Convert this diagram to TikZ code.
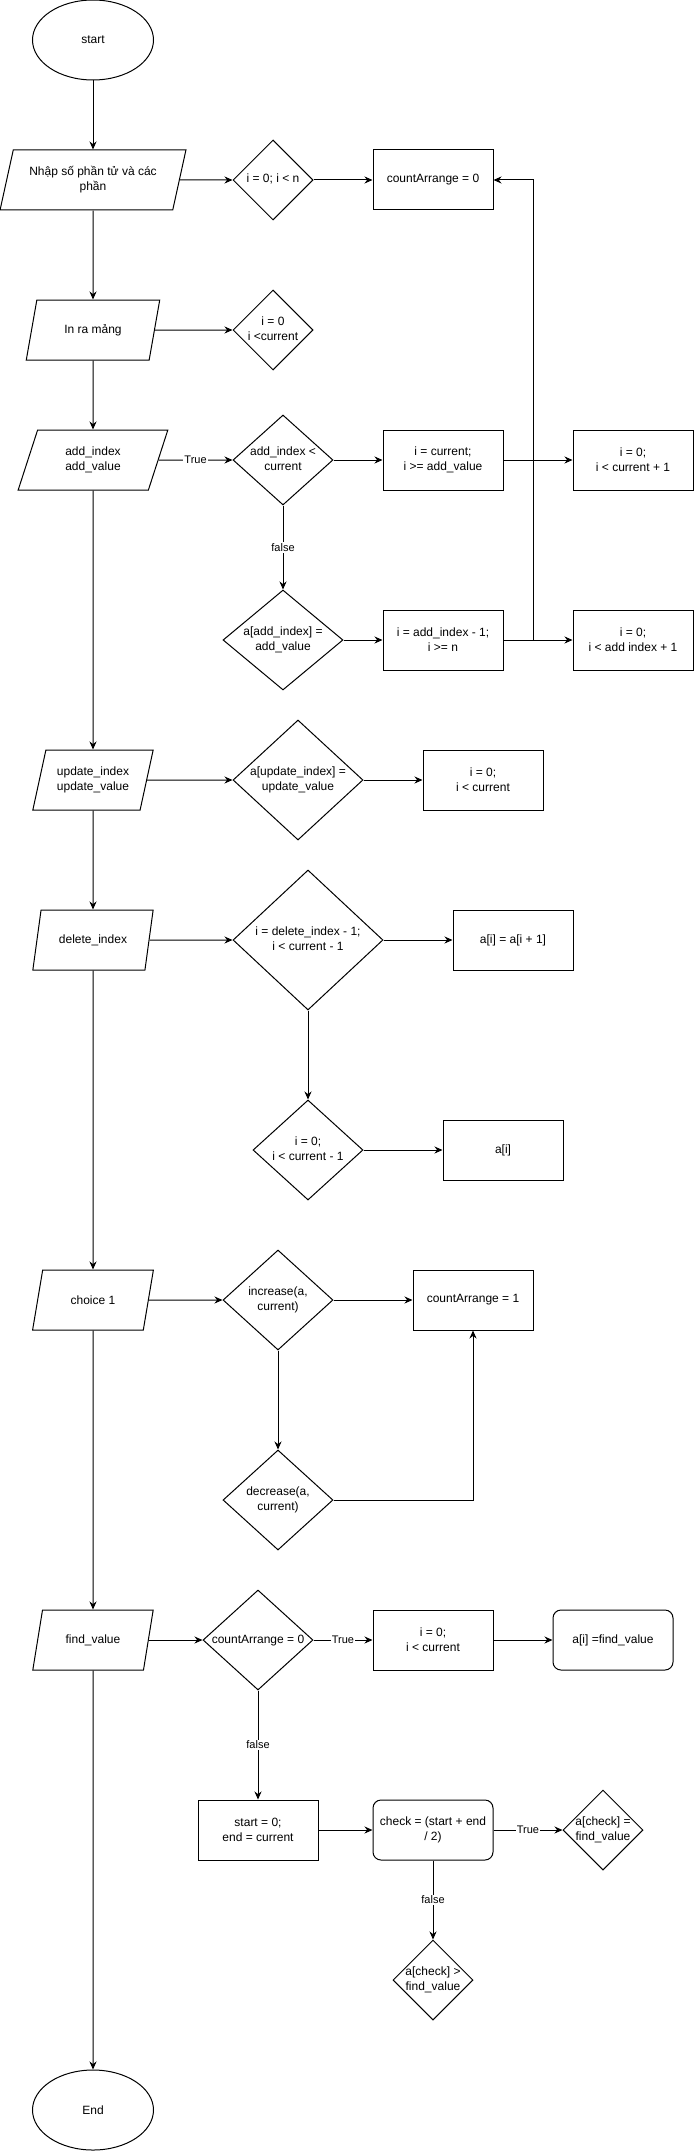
\documentclass[tikz,border=0pt]{standalone}
\usepackage{fontspec}
\setmainfont{Liberation Sans}
\usetikzlibrary{shapes.geometric,arrows.meta}
\newcommand\dtext[1]{\makebox[0pt]{\begin{tabular}{@{}c@{}}#1\end{tabular}}}
\tikzset{
  every node/.style={font=\fontsize{12}{15}\selectfont},
  term/.style={ellipse, draw, minimum width=121pt, minimum height=80pt},
  io/.style={trapezium, trapezium left angle=71.6, trapezium right angle=108.4,
    trapezium stretches=true, draw, align=center, minimum height=60pt, minimum width=#1},
  io/.default=121pt,
  decision/.style 2 args={diamond, draw, inner sep=0pt, minimum width=#1, minimum height=#2},
  process/.style={rectangle, draw, align=center, minimum width=120pt, minimum height=60pt},
  roundbox/.style={process, rounded corners=8pt},
  flow/.style={-{Stealth[length=8pt,width=7pt]}},
  lbl/.style={fill=white, inner sep=1pt, font=\fontsize{11}{13}\selectfont},
}
\begin{document}
\begin{tikzpicture}[x=1pt, y=-1pt, line width=1pt]
  \useasboundingbox (0,0) rectangle (694,2151);
  \node[term] (start) at (93,40) {start};
  \node[io=186pt] (input) at (93,180) {Nhập số phần tử và các\\phần};
  \node[io=134pt] (print) at (93,330) {In ra mảng};
  \node[io=150pt] (addin) at (93,460) {add\_index\\add\_value};
  \node[io] (updin) at (93,780) {update\_index\\update\_value};
  \node[io] (delin) at (93,940) {delete\_index};
  \node[io] (choice) at (93,1300) {choice 1};
  \node[io] (findin) at (93,1640) {find\_value};
  \node[term] (stop) at (93,2110) {End};

  \node[decision={80pt}{80pt}] (loopn) at (273,180) {\dtext{i = 0; i < n}};
  \node[decision={80pt}{80pt}] (loopcur) at (273,330) {\dtext{i = 0\\i <current}};
  \node[decision={100pt}{90pt}] (addchk) at (283,460) {\dtext{add\_index <\\current}};
  \node[decision={120pt}{100pt}] (addset) at (283,640) {\dtext{a[add\_index] =\\add\_value}};
  \node[decision={130pt}{120pt}] (updset) at (298,780) {\dtext{a[update\_index] =\\update\_value}};
  \node[decision={150pt}{140pt}] (delloop) at (308,940) {\dtext{i = delete\_index - 1;\\i < current - 1}};
  \node[decision={110pt}{100pt}] (delprint) at (308,1150) {\dtext{i = 0;\\i < current - 1}};
  \node[decision={110pt}{100pt}] (inc) at (278,1300) {\dtext{increase(a,\\current)}};
  \node[decision={110pt}{100pt}] (dec) at (278,1500) {\dtext{decrease(a,\\current)}};
  \node[decision={110pt}{100pt}] (sorted) at (258,1640) {\dtext{countArrange = 0}};
  \node[process] (bounds) at (258,1830) {start = 0;\\end = current};

  \node[process] (count0) at (433,180) {countArrange = 0};
  \node[process] (shiftcur) at (443,460) {i = current;\\i >= add\_value};
  \node[process] (shiftidx) at (443,640) {i = add\_index - 1;\\i >= n};
  \node[process] (updloop) at (483,780) {i = 0;\\i < current};
  \node[process] (delmove) at (513,940) {a[i] = a[i + 1]};
  \node[process] (delout) at (503,1150) {a[i]};
  \node[process] (count1) at (473,1300) {countArrange = 1};
  \node[process] (linloop) at (433,1640) {i = 0;\\i < current};
  \node[roundbox] (mid) at (433,1830) {check = (start + end\\/ 2)};
  \node[decision={80pt}{80pt}] (greater) at (433,1980) {\dtext{a[check] >\\find\_value}};

  \node[process] (outcur) at (633,460) {i = 0;\\i < current + 1};
  \node[process] (outidx) at (633,640) {i = 0;\\i < add index + 1};
  \node[roundbox] (found) at (613,1640) {a[i] =find\_value};
  \node[decision={80pt}{80pt}] (equal) at (603,1830) {\dtext{a[check] =\\find\_value}};

  \coordinate (back) at (533,180);

  \draw[flow] (start) -- (input);
  \draw[flow] (input) -- (print);
  \draw[flow] (print) -- (addin);
  \draw[flow] (addin) -- (updin);
  \draw[flow] (updin) -- (delin);
  \draw[flow] (delin) -- (choice);
  \draw[flow] (choice) -- (findin);
  \draw[flow] (findin) -- (stop);

  \draw[flow] (input.east) -- (loopn.west);
  \draw[flow] (loopn.east) -- (count0.west);
  \draw[flow] (print.east) -- (loopcur.west);
  \draw[flow] (addin.east) -- node[lbl] {True} (addchk.west);
  \draw[flow] (addchk.east) -- (shiftcur.west);
  \draw[flow] (shiftcur.east) -- (outcur.west);
  \draw[flow] (addchk.south) -- node[lbl] {false} (addset.north);
  \draw[flow] (addset.east) -- (shiftidx.west);
  \draw[flow] (shiftidx.east) -- (outidx.west);
  \draw[flow] (shiftidx.east) -| (back) -- (count0.east);
  \draw[flow] (updin.east) -- (updset.west);
  \draw[flow] (updset.east) -- (updloop.west);
  \draw[flow] (delin.east) -- (delloop.west);
  \draw[flow] (delloop.east) -- (delmove.west);
  \draw[flow] (delloop.south) -- (delprint.north);
  \draw[flow] (delprint.east) -- (delout.west);
  \draw[flow] (choice.east) -- (inc.west);
  \draw[flow] (inc.east) -- (count1.west);
  \draw[flow] (inc.south) -- (dec.north);
  \draw[flow] (dec.east) -| (count1.south);
  \draw[flow] (findin.east) -- (sorted.west);
  \draw[flow] (sorted.east) -- node[lbl] {True} (linloop.west);
  \draw[flow] (linloop.east) -- (found.west);
  \draw[flow] (sorted.south) -- node[lbl] {false} (bounds.north);
  \draw[flow] (bounds.east) -- (mid.west);
  \draw[flow] (mid.east) -- node[lbl] {True} (equal.west);
  \draw[flow] (mid.south) -- node[lbl] {false} (greater.north);
\end{tikzpicture}
\end{document}
